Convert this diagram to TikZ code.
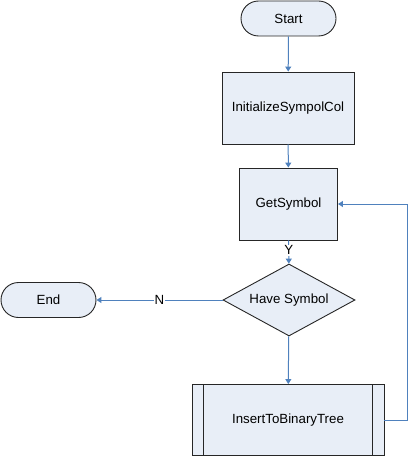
\documentclass[tikz,border=0pt]{standalone}
\usepackage{fontspec}
\setmainfont{Liberation Sans}
\usetikzlibrary{shapes.geometric,arrows.meta}
\definecolor{boxfill}{RGB}{232,238,247}
\definecolor{conn}{RGB}{79,129,189}
\begin{document}
\begin{tikzpicture}[x=1pt,y=-1pt,
  every node/.style={font=\fontsize{13.3}{16}\selectfont},
  terminal/.style={draw=black!85, fill=boxfill, line width=0.9pt, rounded corners=17.5pt, minimum width=95pt, minimum height=35pt, inner sep=0},
  procbox/.style={draw=black!85, fill=boxfill, line width=0.9pt, inner sep=0},
  decision/.style={diamond, draw=black!85, fill=boxfill, line width=0.9pt, aspect=1.8, inner sep=0, minimum width=132pt, minimum height=72pt},
  flow/.style={draw=conn, line width=1pt, -{Triangle[width=6pt,length=5pt]}},
  lbl/.style={fill=white, inner sep=1pt}]
\useasboundingbox (0,0) rectangle (409,457);
\node[terminal] (start) at (288.5,18.5) {Start};
\node[procbox, minimum width=132pt, minimum height=72pt] (init) at (288,108) {InitializeSympolCol};
\node[procbox, minimum width=98pt, minimum height=72pt] (get) at (288.5,204) {GetSymbol};
\node[decision] (have) at (289,300) {Have Symbol};
\node[terminal] (end) at (48.5,300) {End};
\node[procbox, minimum width=192pt, minimum height=71pt] (ins) at (288,420) {InsertToBinaryTree};
\draw[black!85, line width=0.9pt] ([xshift=12pt]ins.north west) -- ([xshift=12pt]ins.south west);
\draw[black!85, line width=0.9pt] ([xshift=-12pt]ins.north east) -- ([xshift=-12pt]ins.south east);
\draw[flow] (start) -- (init);
\draw[flow] (init) -- (get);
\draw[flow] (get) -- node[lbl, pos=0.42]{Y} (have);
\draw[flow] (have) -- node[lbl]{N} (end);
\draw[flow] (have) -- (ins);
\draw[flow] (ins.east) -- ++(23.5,0) |- (get.east);
\end{tikzpicture}
\end{document}
